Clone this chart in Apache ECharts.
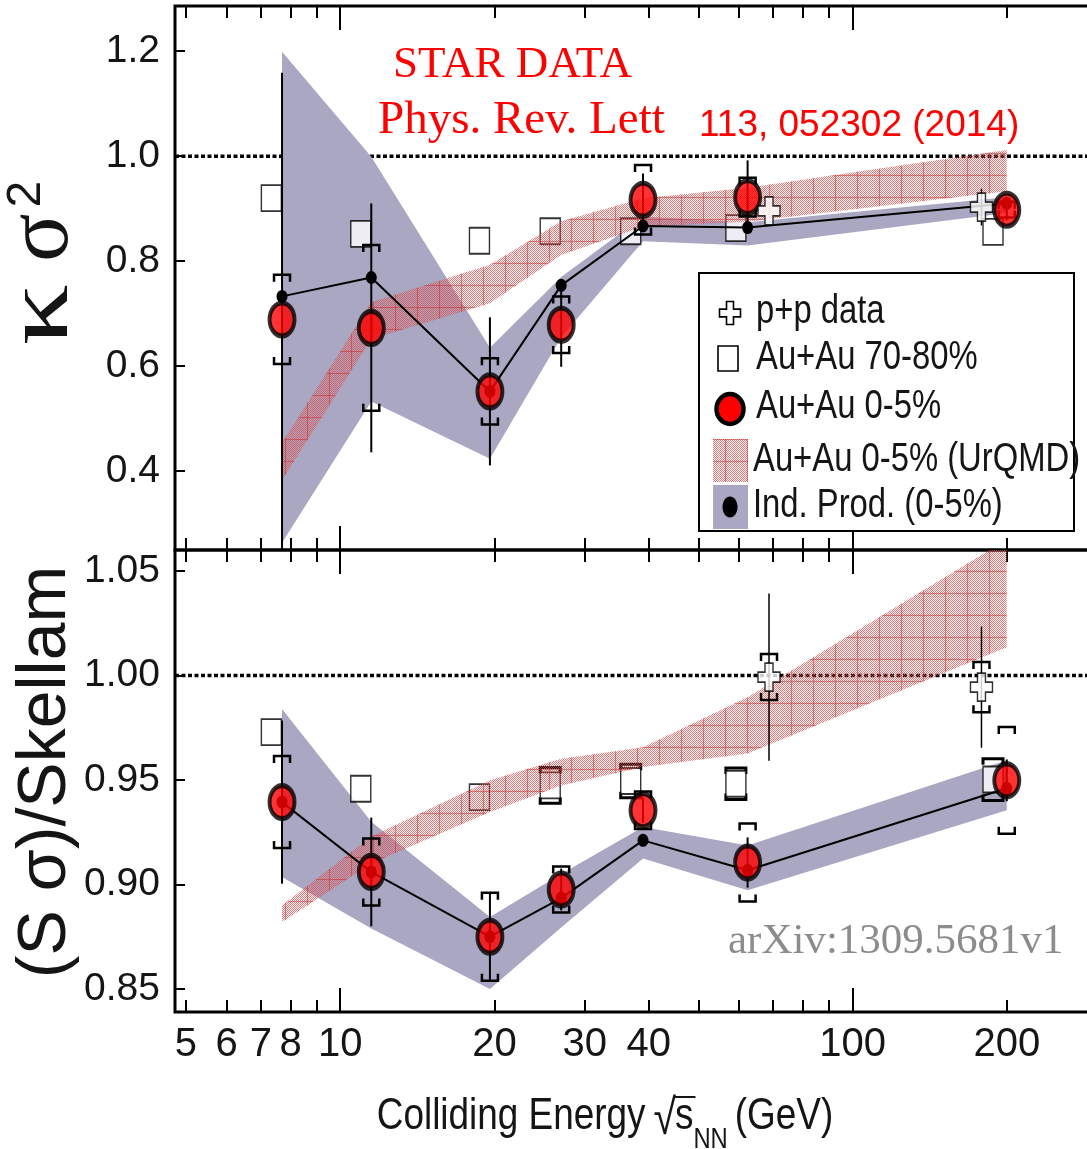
<!DOCTYPE html>
<html>
<head>
<meta charset="utf-8">
<script src="https://cdn.jsdelivr.net/npm/echarts@6/dist/echarts.min.js"></script>
<style>
  html, body { margin: 0; padding: 0; background: #fff; }
  #chart { width: 1087px; height: 1149px; }
</style>
</head>
<body>
<div id="chart"></div>
<script>
// Collision energies (GeV)
const energies = [7.7, 11.5, 19.6, 27, 39, 62.4, 200];
const energiesPeripheral = [7.34, 10.97, 18.7, 25.7, 36.9, 59.2, 188];
const energiesPP = [68.7, 178.5];

// Upper panel: kappa * sigma^2
const kCentral = [0.689, 0.673, 0.552, 0.679, 0.917, 0.922, 0.898];
const kCentralStat = [0.47, 0.237, 0.141, 0.08, 0.05, 0.07, 0.02];
const kCentralSys = [0.085, 0.158, 0.063, 0.054, 0.066, 0.037, 0.015];
const kPeripheral = [0.920, 0.852, 0.839, 0.857, 0.857, 0.863, 0.856];
const kPeripheralSys = [0, 0, 0, 0, 0, 0, 0];
const kPP = [0.896, 0.903];
const kPPStat = [0, 0.035];
const kPPSys = [0, 0];
const kIndProd = [0.733, 0.769, 0.552, 0.754, 0.867, 0.864, 0.910];
const kIndLow = [0.264, 0.533, 0.424, 0.655, 0.838, 0.830, 0.892];
const kIndHigh = [1.199, 0.999, 0.635, 0.770, 0.885, 0.874, 0.922];
const kUrqmdLow = [0.383, 0.652, 0.720, 0.812, 0.866, 0.875, 0.933];
const kUrqmdHigh = [0.454, 0.722, 0.793, 0.876, 0.920, 0.940, 1.012];

// Lower panel: S * sigma / Skellam
const sCentral = [0.9394, 0.906, 0.875, 0.8976, 0.9355, 0.9105, 0.9498];
const sCentralStat = [0.039, 0.026, 0.021, 0.010, 0.006, 0.012, 0.010];
const sCentralSys = [0.022, 0.016, 0.021, 0.011, 0.009, 0.0187, 0.0255];
const sPeripheral = [0.9729, 0.9458, 0.9418, 0.9474, 0.9495, 0.9482, 0.9502];
const sPeripheralSys = [0, 0, 0, 0.0085, 0.008, 0.0075, 0.010];
const sPP = [0.9992, 0.9944];
const sPPStat = [0.040, 0.029];
const sPPSys = [0.011, 0.012];
const sIndProd = [0.9394, 0.906, 0.875, 0.8935, 0.9211, 0.9068, 0.946];
const sIndLow = [0.9036, 0.879, 0.850, 0.8794, 0.9124, 0.8972, 0.9355];
const sIndHigh = [0.984, 0.930, 0.8845, 0.905, 0.9275, 0.9187, 0.9594];
const sUrqmdLow = [0.882, 0.910, 0.9347, 0.9474, 0.9562, 0.9626, 1.0135];
const sUrqmdHigh = [0.890, 0.923, 0.9498, 0.9602, 0.9657, 0.9896, 1.065];

// Axis ticks and labels
const xTickLabels = [5, 6, 7, 8, 10, 20, 30, 40, 100, 200];
const xMinorTicks = [5, 6, 7, 8, 9, 20, 30, 40, 50, 60, 70, 80, 90, 200];
const xMajorTicks = [10, 100];
const kTicks = [0.4, 0.6, 0.8, 1.0, 1.2];
const sTicks = [0.85, 0.90, 0.95, 1.00, 1.05];

const SANS = '"Liberation Sans", Arial, sans-serif';
const SERIF = '"Liberation Serif", "Times New Roman", serif';
const NARROW_X = 0.82;          // horizontal squeeze for condensed lettering
const GRAY = '#a9a7c1';
const RED = '#ff0000';

// Energy axis is drawn on log10(E)
const lg = Math.log10;
const X_MIN = lg(4.76);
const X_MAX = lg(300);

function makeHatch() {
  const c = document.createElement('canvas');
  c.width = 22; c.height = 22;
  const g = c.getContext('2d');
  g.fillStyle = 'rgba(226,78,78,0.78)';
  for (let i = 0; i < 22; i++) {
    for (let j = 0; j < 22; j++) {
      if ((i + j) % 2 === 0) g.fillRect(i, j, 1, 1);
    }
  }
  g.fillStyle = 'rgba(200,50,50,0.55)';
  g.fillRect(21, 0, 1, 22);
  g.fillRect(0, 21, 22, 1);
  return c;
}
const hatch = { image: makeHatch(), repeat: 'repeat' };

const CROSS = 'path://M7,0H15V9H22V19H15V28H7V19H0V9H7Z';

function pts(xs, ys) { return xs.map((e, i) => [lg(e), ys[i]]); }

function makeX(gridIndex, position, ticks, len, labels) {
  return {
    type: 'value', gridIndex, position, min: X_MIN, max: X_MAX,
    axisLine: { show: false },
    splitLine: { show: false },
    axisTick: { show: true, inside: true, length: len, customValues: ticks.map(lg),
                lineStyle: { color: '#000', width: 2 } },
    axisLabel: labels ? {
      show: true, customValues: xTickLabels.map(lg),
      formatter: v => String(Math.round(Math.pow(10, v))),
      margin: 13, fontSize: 40, fontFamily: SANS, color: '#151515'
    } : { show: false }
  };
}

function makeY(gridIndex, position, min, max, ticks, digits, labels) {
  return {
    type: 'value', gridIndex, position, min, max,
    axisLine: { show: false },
    splitLine: { show: false },
    axisTick: { show: true, inside: true, length: 10, customValues: ticks,
                lineStyle: { color: '#000', width: 2 } },
    axisLabel: labels ? {
      show: true, customValues: ticks,
      formatter: v => v.toFixed(digits),
      margin: 15, fontSize: 39, fontFamily: SANS, color: '#151515'
    } : { show: false }
  };
}

// Filled band between lower and upper curves
function band(common, xs, lo, hi, fill, z) {
  return Object.assign({}, common, {
    type: 'custom', z, clip: true,
    data: xs.map((e, i) => [lg(e), lo[i], hi[i]]),
    renderItem(params, api) {
      if (params.dataIndexInside !== 0) return null;
      const up = xs.map((e, i) => api.coord([lg(e), hi[i]]));
      const dn = xs.map((e, i) => api.coord([lg(e), lo[i]])).reverse();
      return { type: 'polygon', shape: { points: up.concat(dn) }, style: { fill } };
    }
  });
}

// Statistical error line and systematic brackets
function errors(common, xs, vals, stat, sys, z, opt) {
  const o = Object.assign({ half: 8, leg: 7, statW: 2, sysW: 2.5 }, opt || {});
  return Object.assign({}, common, {
    type: 'custom', z, clip: true,
    data: xs.map((e, i) => [lg(e), vals[i], stat[i], sys[i]]),
    renderItem(params, api) {
      const x = api.value(0), v = api.value(1), st = api.value(2), sy = api.value(3);
      const children = [];
      if (st > 0) {
        const a = api.coord([x, v + st]), b = api.coord([x, v - st]);
        children.push({ type: 'line', shape: { x1: a[0], y1: a[1], x2: b[0], y2: b[1] },
                        style: { stroke: '#000', lineWidth: o.statW } });
      }
      if (sy > 0) {
        const t = api.coord([x, v + sy]), b = api.coord([x, v - sy]);
        const w = o.half, l = o.leg;
        children.push({ type: 'polyline',
          shape: { points: [[t[0] - w, t[1] + l], [t[0] - w, t[1]], [t[0] + w, t[1]], [t[0] + w, t[1] + l]] },
          style: { stroke: '#000', lineWidth: o.sysW, fill: 'none' } });
        children.push({ type: 'polyline',
          shape: { points: [[b[0] - w, b[1] - l], [b[0] - w, b[1]], [b[0] + w, b[1]], [b[0] + w, b[1] - l]] },
          style: { stroke: '#000', lineWidth: o.sysW, fill: 'none' } });
      }
      return { type: 'group', children };
    }
  });
}

function panelSeries(gi, d) {
  const common = { xAxisIndex: gi * 4, yAxisIndex: gi * 2, silent: true, animation: false };
  return [
    Object.assign({}, common, { type: 'line', z: 1, data: [[X_MIN, 1], [X_MAX, 1]], symbol: 'none',
      lineStyle: { color: '#000', width: 3.5, type: [4, 2.5] } }),
    band(common, energies, d.indLow, d.indHigh, GRAY, 2),
    Object.assign({}, common, { type: 'scatter', z: 3, data: pts(energiesPeripheral, d.peripheral),
      symbol: 'rect', symbolSize: [20, 26],
      itemStyle: { color: '#fff', borderColor: '#000', borderWidth: 1.6 } }),
    errors(common, energiesPeripheral, d.peripheral, d.peripheral.map(() => 0), d.peripheralSys, 3,
      { half: 10, leg: 6, sysW: 3 }),
    band(common, energies, d.urqmdLow, d.urqmdHigh, hatch, 4),
    Object.assign({}, common, { type: 'line', z: 5, data: pts(energies, d.ind),
      symbol: 'circle', symbolSize: [11, 13], showSymbol: true,
      itemStyle: { color: '#000' }, lineStyle: { color: '#000', width: 2 } }),
    errors(common, energies, d.central, d.centralStat, d.centralSys, 6),
    Object.assign({}, common, { type: 'scatter', z: 7, data: pts(energies, d.central),
      symbol: 'circle', symbolSize: [25, 33],
      itemStyle: { color: RED, borderColor: '#000', borderWidth: 4.5 } }),
    errors(common, energiesPP, d.pp, d.ppStat, d.ppSys, 6, { statW: 1.5 }),
    Object.assign({}, common, { type: 'scatter', z: 8, data: pts(energiesPP, d.pp),
      symbol: CROSS, symbolSize: [22, 28],
      itemStyle: { color: '#fff', borderColor: '#000', borderWidth: 1.6 } })
  ];
}

// Text helpers
const mctx = document.createElement('canvas').getContext('2d');
function tw(text, size, family) {
  mctx.font = size + 'px ' + family;
  return mctx.measureText(text).width;
}
function txt(text, x, y, size, family, fill, sx) {
  const el = {
    type: 'text', x, y, z: 100,
    style: { text, fontSize: size, fontFamily: family, fill: fill || '#151515',
             align: 'left', verticalAlign: 'middle',
             textAlign: 'left', textVerticalAlign: 'middle' }
  };
  if (sx) el.scaleX = sx;
  return el;
}
// Lay out runs of text left to right, centred on 0
function runs(list) {
  const widths = list.map(r => tw(r.t, r.size, r.fam) * (r.sx || 1));
  const total = widths.reduce((a, w, i) => a + w + (list[i].gap || 0), 0) - (list[list.length - 1].gap || 0);
  let x = -total / 2;
  const out = [];
  list.forEach((r, i) => {
    out.push(txt(r.t, x, r.dy || 0, r.size, r.fam, r.fill, r.sx));
    r._x = x; r._w = widths[i];
    x += widths[i] + (r.gap || 0);
  });
  return out;
}

// x-axis title with sqrt(s_NN)
const xTitleRuns = [
  { t: 'Colliding Energy', size: 45, fam: SANS, sx: NARROW_X, gap: 8 },
  { t: '√', size: 50, fam: SANS, sx: NARROW_X, dy: 3, gap: -1 },
  { t: 's', size: 45, fam: SANS, sx: NARROW_X, gap: 0 },
  { t: 'NN', size: 29, fam: SANS, sx: NARROW_X, dy: 23, gap: 7 },
  { t: '(GeV)', size: 45, fam: SANS, sx: NARROW_X }
];
const xTitleChildren = runs(xTitleRuns);
xTitleChildren.push({
  type: 'line', z: 100,
  shape: { x1: xTitleRuns[1]._x + xTitleRuns[1]._w - 3, y1: -20, x2: xTitleRuns[2]._x + xTitleRuns[2]._w + 2, y2: -20 },
  style: { stroke: '#151515', lineWidth: 2 }
});

function crossPoints(cx, cy, w, h) {
  const a = w / 6, b = h / 6, hw = w / 2, hh = h / 2;
  return [[cx - a, cy - hh], [cx + a, cy - hh], [cx + a, cy - b], [cx + hw, cy - b], [cx + hw, cy + b],
          [cx + a, cy + b], [cx + a, cy + hh], [cx - a, cy + hh], [cx - a, cy + b], [cx - hw, cy + b],
          [cx - hw, cy - b], [cx - a, cy - b]];
}

const legend = [
  { type: 'rect', z: 99, shape: { x: 699, y: 273, width: 375, height: 258 },
    style: { fill: '#fff', stroke: '#000', lineWidth: 2 } },
  { type: 'polygon', z: 100, shape: { points: crossPoints(730, 313, 21, 23) },
    style: { fill: '#fff', stroke: '#000', lineWidth: 1.6 } },
  { type: 'rect', z: 100, shape: { x: 718, y: 346, width: 20, height: 25 },
    style: { fill: '#fff', stroke: '#000', lineWidth: 1.6 } },
  { type: 'ellipse', z: 100, shape: { cx: 730, cy: 409, rx: 13.5, ry: 15 },
    style: { fill: RED, stroke: '#000', lineWidth: 4.5 } },
  { type: 'rect', z: 100, shape: { x: 713, y: 439, width: 35, height: 43 }, style: { fill: hatch } },
  { type: 'rect', z: 100, shape: { x: 713, y: 485, width: 35, height: 44 }, style: { fill: GRAY } },
  { type: 'ellipse', z: 101, shape: { cx: 730, cy: 507, rx: 7.5, ry: 10.5 }, style: { fill: '#000' } },
  txt('p+p data', 756, 312, 40, SANS, null, NARROW_X),
  txt('Au+Au 70-80%', 756, 358, 40, SANS, null, NARROW_X),
  txt('Au+Au 0-5%', 756, 407, 40, SANS, null, NARROW_X),
  txt('Au+Au 0-5% (UrQMD)', 753, 460, 40, SANS, null, NARROW_X),
  txt('Ind. Prod. (0-5%)', 753, 506, 40, SANS, null, NARROW_X)
];

const notes = [
  txt('STAR DATA', 393, 65, 45, SERIF, RED),
  txt('Phys. Rev. Lett', 378, 121, 47, SERIF, RED),
  txt('113, 052302 (2014)', 699, 126, 37, SANS, RED),
  txt('arXiv:1309.5681v1', 728, 942, 43, SERIF, '#8c8c8c')
];

const titles = [
  { type: 'group', x: 43, y: 263, rotation: Math.PI / 2, children: runs([
      { t: 'κ', size: 90, fam: SERIF, sx: 1.35, gap: 22 },
      { t: 'σ', size: 90, fam: SERIF, gap: 6 },
      { t: '2', size: 48, fam: SANS, dy: -16 }
  ]) },
  { type: 'group', x: 46, y: 772, rotation: Math.PI / 2, children: runs([
      { t: '(S σ)/Skellam', size: 68, fam: SANS }
  ]) },
  { type: 'group', x: 605, y: 1117, children: xTitleChildren }
];

const chart = echarts.init(document.getElementById('chart'), null, { renderer: 'canvas' });
chart.setOption({
  animation: false,
  backgroundColor: '#fff',
  grid: [
    { left: 175, top: 6, width: 922, height: 544 },
    { left: 175, top: 550, width: 922, height: 462 }
  ].map(g => Object.assign(g, { show: true, borderColor: '#000', borderWidth: 3,
                                 backgroundColor: 'transparent', containLabel: false, outerBoundsMode: 'none' })),
  xAxis: [0, 1].flatMap(gi => [
    makeX(gi, 'bottom', xMinorTicks, 12, gi === 1),
    makeX(gi, 'bottom', xMajorTicks, 24, false),
    makeX(gi, 'top', xMinorTicks, 12, false),
    makeX(gi, 'top', xMajorTicks, 24, false)
  ]),
  yAxis: [
    makeY(0, 'left', 0.25, 1.286, kTicks, 1, true),
    makeY(0, 'right', 0.25, 1.286, kTicks, 1, false),
    makeY(1, 'left', 0.839, 1.06, sTicks, 2, true),
    makeY(1, 'right', 0.839, 1.06, sTicks, 2, false)
  ],
  series: panelSeries(0, {
    central: kCentral, centralStat: kCentralStat, centralSys: kCentralSys,
    peripheral: kPeripheral, peripheralSys: kPeripheralSys,
    pp: kPP, ppStat: kPPStat, ppSys: kPPSys,
    ind: kIndProd, indLow: kIndLow, indHigh: kIndHigh,
    urqmdLow: kUrqmdLow, urqmdHigh: kUrqmdHigh
  }).concat(panelSeries(1, {
    central: sCentral, centralStat: sCentralStat, centralSys: sCentralSys,
    peripheral: sPeripheral, peripheralSys: sPeripheralSys,
    pp: sPP, ppStat: sPPStat, ppSys: sPPSys,
    ind: sIndProd, indLow: sIndLow, indHigh: sIndHigh,
    urqmdLow: sUrqmdLow, urqmdHigh: sUrqmdHigh
  })),
  graphic: legend.concat(notes, titles)
});
</script>
</body>
</html>
